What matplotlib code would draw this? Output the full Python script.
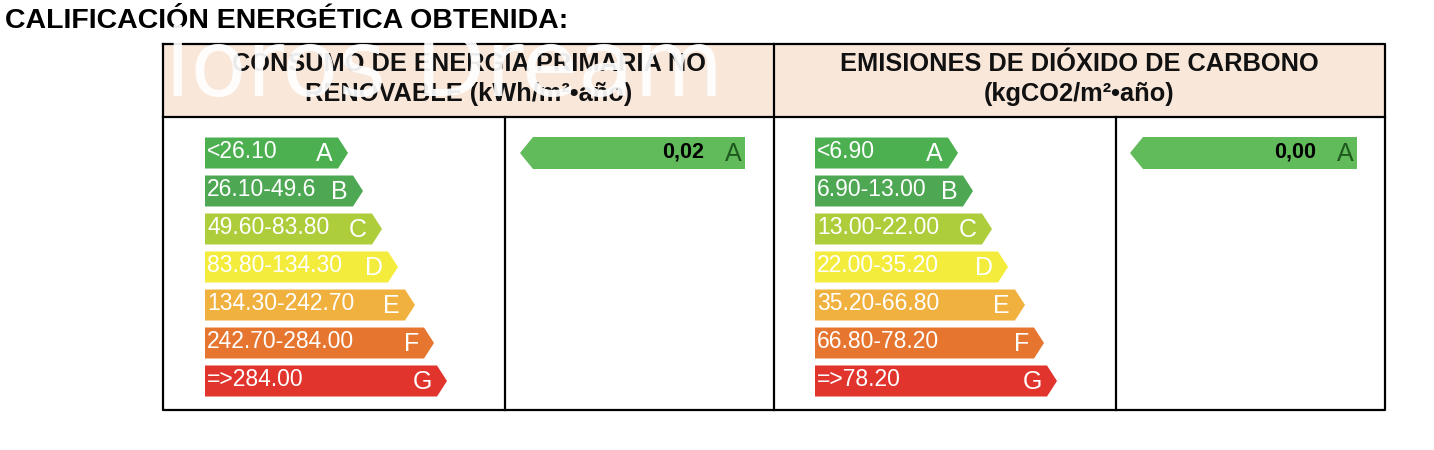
import matplotlib
matplotlib.use("Agg")
import matplotlib.pyplot as plt
from matplotlib.patches import Polygon, Rectangle

plt.rcParams['font.family'] = ['Liberation Sans', 'DejaVu Sans']

# data
title = "CALIFICACIÓN ENERGÉTICA OBTENIDA:"
headers = ["CONSUMO DE ENERGÍA PRIMARIA NO\nRENOVABLE (kWh/m²•año)",
           "EMISIONES DE DIÓXIDO DE CARBONO\n(kgCO2/m²•año)"]
classes = ["A", "B", "C", "D", "E", "F", "G"]
ranges_energy = ["<26.10", "26.10-49.6", "49.60-83.80", "83.80-134.30",
                 "134.30-242.70", "242.70-284.00", "=>284.00"]
ranges_co2 = ["<6.90", "6.90-13.00", "13.00-22.00", "22.00-35.20",
              "35.20-66.80", "66.80-78.20", "=>78.20"]
values = ["0,02", "0,00"]
ratings = ["A", "A"]
class_colors = ["#4cb050", "#4ea853", "#aecd3a", "#f4ec3c",
                "#f1b13e", "#e6762f", "#e0342d"]
value_color = "#62bb5a"

W, H = 1434, 450
fig = plt.figure(figsize=(W / 100, H / 100), dpi=100)
ax = fig.add_axes([0, 0, 1, 1])
ax.set_xlim(0, W)
ax.set_ylim(H, 0)
ax.axis('off')

# title
ax.text(5, 21, title, fontsize=20.5, fontweight='bold', va='center', ha='left')

# table frame
left, right, top, bottom = 163, 1385, 44, 410
mid, head_bot = 774, 117
ax.add_patch(Rectangle((left, top), right - left, head_bot - top,
                       facecolor="#f9e7da", edgecolor='none'))
lw = 1.6
ax.plot([left, right, right, left, left], [top, top, bottom, bottom, top], color='black', lw=lw)
ax.plot([left, right], [head_bot, head_bot], color='black', lw=lw)
ax.plot([mid, mid], [top, bottom], color='black', lw=lw)
for xd in (505, 1116):
    ax.plot([xd, xd], [head_bot, bottom], color='black', lw=lw)

for cx, txt in zip([(left + mid) / 2, (mid + right) / 2], headers):
    ax.text(cx, 79, txt, fontsize=18.3, fontweight='bold', ha='center', va='center',
            linespacing=1.33, color='#111111')

# class scales
row_y0, row_step, bar_h = 153, 38, 31
tip_ends = [143, 158, 177, 193, 210, 229, 242]
tip_depth = 10
for x0, ranges in zip([205, 815], [ranges_energy, ranges_co2]):
    for i, (cls, rng, col) in enumerate(zip(classes, ranges, class_colors)):
        yc = row_y0 + i * row_step
        xt = x0 + tip_ends[i]
        xb = xt - tip_depth
        poly = [(x0, yc - bar_h / 2), (xb, yc - bar_h / 2), (xt, yc),
                (xb, yc + bar_h / 2), (x0, yc + bar_h / 2)]
        ax.add_patch(Polygon(poly, closed=True, facecolor=col, edgecolor='none'))
        ax.text(x0 + 2, yc - 1, rng, fontsize=16.5, color='white', ha='left', va='center')
        ax.text(xt - 15, yc + 1, cls, fontsize=18, color='white', ha='right', va='center')

# obtained values
for x_tip, x_end, val, rt in zip([520, 1130], [745, 1357], values, ratings):
    yc, h = 153, 32
    poly = [(x_tip, yc), (x_tip + 13, yc - h / 2), (x_end, yc - h / 2),
            (x_end, yc + h / 2), (x_tip + 13, yc + h / 2)]
    ax.add_patch(Polygon(poly, closed=True, facecolor=value_color, edgecolor='none'))
    ax.text(x_end - 41, yc - 1, val, fontsize=15.5, fontweight='bold', color='black',
            ha='right', va='center')
    ax.text(x_end - 12, yc + 1, rt, fontsize=18, color='#1e5a1e', ha='center', va='center')

# watermark
ax.text(165, 70, "loros Dream", fontsize=66, color='white', alpha=0.92,
        ha='left', va='center', family='DejaVu Sans')

fig.savefig("out.png", dpi=100)
